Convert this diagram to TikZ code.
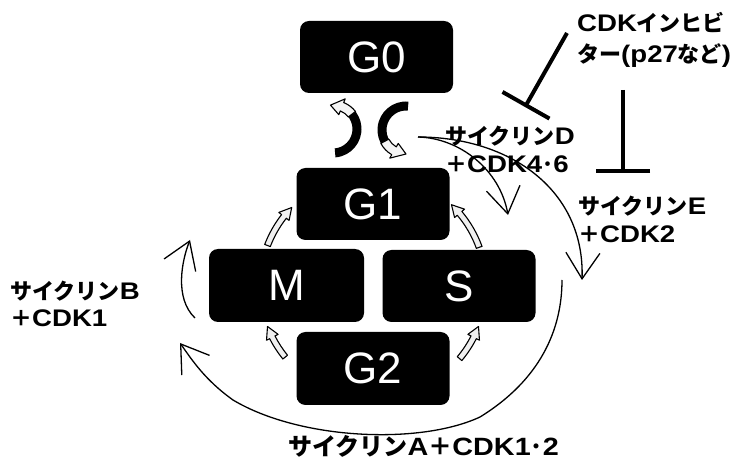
\documentclass[tikz,border=0pt]{standalone}
\usepackage{fontspec}
\newfontfamily\boxfont{Liberation Sans}
\newfontfamily\jp{Noto Sans CJK JP}
\newfontfamily\latfont[FakeStretch=1.15]{Liberation Sans}
\def\latsize{24}
\newcommand{\latn}[1]{{\latfont\bfseries\fontsize{\latsize}{\latsize}\selectfont #1}}
\usetikzlibrary{arrows.meta}
% hollow curved arrow: cx cy r a1(tail) a2(head base) a3(tip) halfwidth headhalfwidth style
\newcommand{\hollowarrow}[9]{%
  \path[#9] ({#1+(#3+#7)*cos(#4)},{#2+(#3+#7)*sin(#4)})
    arc[start angle=#4,end angle=#5,radius={#3+#7}]
    -- ({#1+(#3+#8)*cos(#5)},{#2+(#3+#8)*sin(#5)})
    -- ({#1+#3*cos(#6)},{#2+#3*sin(#6)})
    -- ({#1+(#3-#8)*cos(#5)},{#2+(#3-#8)*sin(#5)})
    -- ({#1+(#3-#7)*cos(#5)},{#2+(#3-#7)*sin(#5)})
    arc[start angle=#5,end angle=#4,radius={#3-#7}] -- cycle;}
% solid band: cx cy r a1 a2 halfwidth style
\newcommand{\solidband}[7]{%
  \path[#7] ({#1+(#3+#6)*cos(#4)},{#2+(#3+#6)*sin(#4)})
    arc[start angle=#4,end angle=#5,radius={#3+#6}]
    -- ({#1+(#3-#6)*cos(#5)},{#2+(#3-#6)*sin(#5)})
    arc[start angle=#5,end angle=#4,radius={#3-#6}] -- cycle;}
\tikzset{
  phase/.style={fill=black, rounded corners=9pt, minimum width=153pt, minimum height=72pt,
    text=white, inner sep=0pt, font=\boxfont\fontsize{44}{44}\selectfont},
  lbl/.style={anchor=base west, inner sep=0pt, font=\jp\bfseries\fontsize{22}{22}\selectfont},
  biglbl/.style={anchor=base west, inner sep=0pt,
    font=\def\latsize{25}\jp\bfseries\fontsize{24}{24}\selectfont},
  curve/.style={line width=1.3pt},
  vtip/.style={-{Straight Barb[length=26pt,width=34pt]}},
  inhib/.style={line width=4pt, -{Bar[width=54pt]}},
  ringarrow/.style={draw=black, line width=1.1pt, fill=gray!12, line join=round},
  blackband/.style={fill=black},
  whitehead/.style={draw=black, line width=1.1pt, fill=gray!8, line join=round}
}
\begin{document}
\begin{tikzpicture}[x=1pt,y=1pt]
\useasboundingbox (0,0) rectangle (745,464);
\fill[white] (0,0) rectangle (745,464);

% phase boxes
\node[phase] (G0) at (376.5,407) {G0};
\node[phase] (G1) at (373,260) {G1};
\node[phase, minimum width=155pt, minimum height=73pt] (M) at (286.5,178.5) {M};
\node[phase] (S) at (459,178) {S};
\node[phase, minimum height=73pt] (G2) at (373,95.5) {G2};

% G0 <-> G1 arrows
\solidband{333}{335}{24}{-85}{45}{4.5}{blackband}
\hollowarrow{333}{335}{24}{38}{68}{96}{4.5}{8.5}{whitehead}
\solidband{406}{334}{24}{85}{215}{4.5}{blackband}
\hollowarrow{406}{334}{24}{208}{240}{270}{4.5}{8.5}{whitehead}

% cell cycle ring arrows
\hollowarrow{373}{178}{113}{20}{40}{46}{3}{6.5}{ringarrow}
\hollowarrow{373}{178}{113}{-40}{-27}{-21}{3}{6.5}{ringarrow}
\hollowarrow{373}{178}{113}{219}{207}{201}{3}{6.5}{ringarrow}
\hollowarrow{373}{178}{113}{159}{142}{136}{3}{6.5}{ringarrow}

% labels
\node[lbl] (inh1) at (577,432) {\latn{CDK}インヒビ};
\node[lbl] (inh2) at (577,401) {ター\latn{(p27}など\latn{)}};
\node[lbl] (cycD1) at (445,319) {サイクリン\latn{D}};
\node[lbl] (cycD2) at (445,291) {＋\latn{CDK4}･\latn{6}};
\node[lbl] (cycE1) at (578,249) {サイクリン\latn{E}};
\node[lbl] (cycE2) at (578,221) {＋\latn{CDK2}};
\node[lbl] (cycB1) at (10,164) {サイクリン\latn{B}};
\node[lbl] (cycB2) at (10,137) {＋\latn{CDK1}};
\node[biglbl] (cycA) at (288,9) {サイクリン\latn{A}＋\latn{CDK1}･\latn{2}};

% connector coordinates
\coordinate (start) at (418,327);
\coordinate (tipD) at (508,249);
\coordinate (tipE) at (582,184);
\coordinate (startB) at (195,146);
\coordinate (tipB) at (190,224);
\coordinate (startA) at (562,184);
\coordinate (tipA) at (180,121);
\coordinate (inhA) at (567,431);
\coordinate (barA) at (525,357);
\coordinate (inhB) at (623,374);
\coordinate (barB) at (623,291);

% cyclin arrows
\draw[curve, vtip] (start) .. controls (460,326) and (500,294) .. (tipD);
\draw[curve, vtip] (start) .. controls (510,327) and (585,274) .. (tipE);
\draw[curve, vtip] (startB) .. controls (174,166) and (182,204) .. (tipB);
\draw[curve, vtip] (startA) .. controls (562,134) and (540,84) .. (480,47)
   .. controls (420,19) and (300,24) .. (233,64)
   .. controls (205,84) and (192,104) .. (tipA);

% inhibitor lines
\draw[inhib] (inhA) -- (barA);
\draw[inhib] (inhB) -- (barB);
\end{tikzpicture}
\end{document}
